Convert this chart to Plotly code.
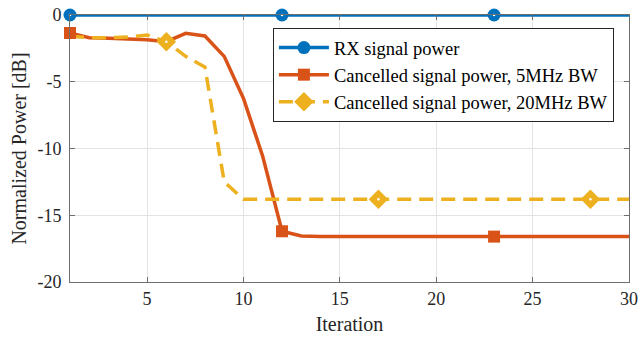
import plotly.graph_objects as go

iterations = list(range(1, 31))
rx_power = [0.0] * 30
cancel_5mhz = [-1.35, -1.7, -1.75, -1.78, -1.85, -2.0, -1.37, -1.57, -3.1, -6.25,
               -10.6, -16.2, -16.55, -16.6, -16.6, -16.6, -16.6, -16.6, -16.6, -16.6,
               -16.6, -16.6, -16.6, -16.6, -16.6, -16.6, -16.6, -16.6, -16.6, -16.6]
cancel_20mhz = [-1.6, -1.7, -1.7, -1.65, -1.5, -2.0, -3.1, -3.9, -12.5, -13.8,
                -13.8, -13.8, -13.8, -13.8, -13.8, -13.8, -13.8, -13.8, -13.8, -13.8,
                -13.8, -13.8, -13.8, -13.8, -13.8, -13.8, -13.8, -13.8, -13.8, -13.8]
names = ["RX signal power", "Cancelled signal power, 5MHz BW", "Cancelled signal power, 20MHz BW"]
marker_idx = [[0, 11, 22], [0, 11, 22], [5, 16, 27]]
y_ticks = [0, -5, -10, -15, -20]
y_ticklabels = ["0", "-5", "-10", "-15", "-20"]
x_ticks = [5, 10, 15, 20, 25, 30]

colors = ["#0072BD", "#D95319", "#EDB120"]
dashes = ["solid", "solid", "14px,8px"]
symbols = ["circle", "square", "diamond"]
msizes = [13, 12, 15]
has_dot = [True, False, True]

fig = go.Figure()
series = [rx_power, cancel_5mhz, cancel_20mhz]
for k, ys in enumerate(series):
    fig.add_trace(go.Scatter(x=iterations, y=ys, mode="lines",
                             line=dict(color=colors[k], width=3.5, dash=dashes[k]),
                             showlegend=False, cliponaxis=False, hoverinfo="skip"))
for k, ys in enumerate(series):
    mx = [iterations[i] for i in marker_idx[k]]
    my = [ys[i] for i in marker_idx[k]]
    fig.add_trace(go.Scatter(x=mx, y=my, mode="markers",
                             marker=dict(symbol=symbols[k], size=msizes[k], color=colors[k],
                                         line=dict(width=0)),
                             showlegend=False, cliponaxis=False))
    if has_dot[k]:
        fig.add_trace(go.Scatter(x=mx, y=my, mode="markers",
                                 marker=dict(symbol="circle", size=2.5, color="white",
                                             line=dict(width=0)),
                                 showlegend=False, cliponaxis=False, hoverinfo="skip"))
for k in range(3):
    fig.add_trace(go.Scatter(x=[None], y=[None], mode="lines+markers", name=names[k],
                             line=dict(color=colors[k], width=3.5, dash=dashes[k]),
                             marker=dict(symbol=symbols[k], size=msizes[k], color=colors[k],
                                         line=dict(width=0))))

axis_common = dict(showgrid=True, gridcolor="#e3e3e3", gridwidth=1, zeroline=False,
                   showline=True, linecolor="#6e6e6e", linewidth=1, mirror="allticks",
                   ticks="inside", ticklen=5, tickcolor="#6e6e6e", automargin=False,
                   tickfont=dict(family="Liberation Serif", size=18, color="#262626"))

fig.update_xaxes(range=[1, 30], tickvals=x_ticks,
                 title=dict(text="Iteration", font=dict(family="Liberation Serif", size=20, color="#262626"), standoff=9),
                 **axis_common)
fig.update_yaxes(range=[-20, 0], tickvals=y_ticks, ticktext=y_ticklabels,
                 title=dict(text="Normalized Power [dB]", font=dict(family="Liberation Serif", size=20, color="#262626"), standoff=5),
                 ticklabelstandoff=4,
                 **axis_common)

fig.update_layout(
    width=639, height=339,
    margin=dict(l=70, r=10, t=15, b=57),
    plot_bgcolor="white", paper_bgcolor="white",
    legend=dict(x=0.363, y=0.951, xanchor="left", yanchor="top",
                bgcolor="white", bordercolor="#262626", borderwidth=1,
                font=dict(family="Liberation Serif", size=18.5, color="#000000"),
                tracegroupgap=0, itemwidth=50),
    showlegend=True,
)

fig.write_html("out.html")
